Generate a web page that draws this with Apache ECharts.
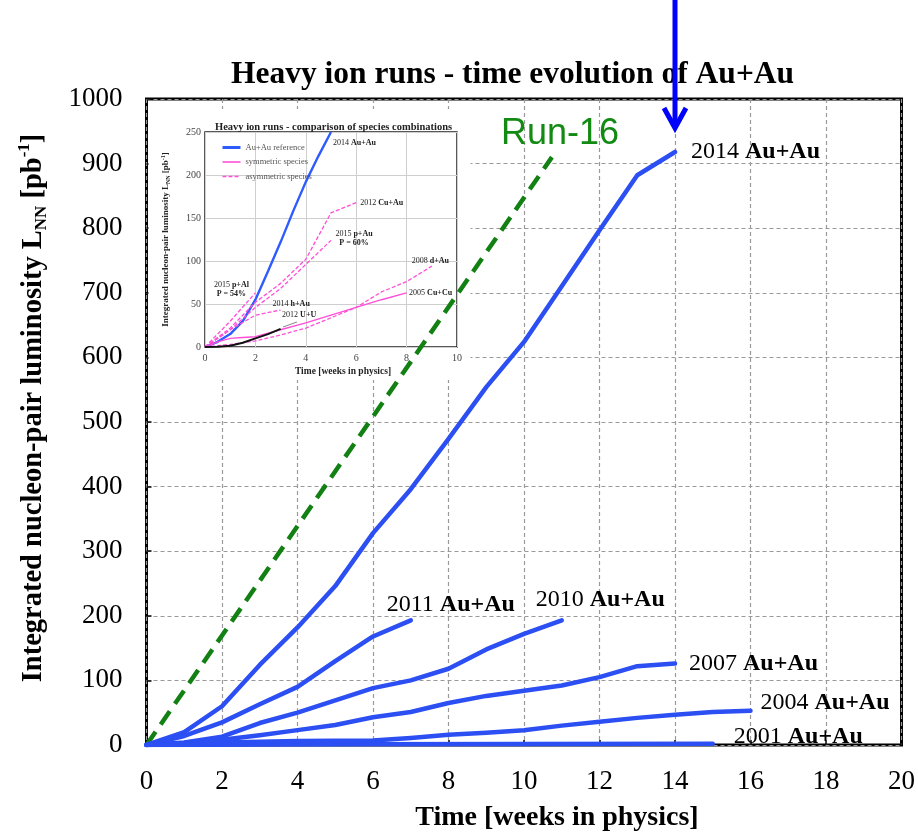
<!DOCTYPE html>
<html>
<head>
<meta charset="utf-8">
<title>Heavy ion runs - time evolution of Au+Au</title>
<style>
    html, body { margin: 0; padding: 0; background: #fff; }
    #chart { width: 918px; height: 837px; }
</style>
</head>
<body>
<div id="chart"></div>
<script src="https://cdn.jsdelivr.net/npm/echarts@6.0.0/dist/echarts.min.js"></script>
<script>
// main chart: [weeks in physics, integrated L_NN in pb^-1]
const au2014 = [[0,0],[1,20],[2,60],[3,124],[4,182],[5,246],[6,328],[7,396],[8,474],[9,554],[10,624],[11,710],[12,797],[13,882],[14,918]];
const au2011 = [[0,0],[1,14],[2,35],[3,63],[4,90],[5,130],[6,168],[7,193]];
const au2010 = [[0,0],[1,4],[2,13],[3,34],[4,50],[5,69],[6,88],[7,100],[8,118],[9,148],[10,172],[11,193]];
const au2007 = [[0,0],[1,3],[2,8],[3,15],[4,23],[5,31],[6,43],[7,51],[8,65],[9,76],[10,84],[11,92],[12,105],[13,122],[14,126]];
const au2004 = [[0,0],[2,4],[4,6],[6,7],[7,11],[8,16],[9,19],[10,23],[11,30],[12,36],[13,42],[14,47],[15,51],[16,53]];
const au2001 = [[0,0],[5,1],[10,1.5],[15,2]];
const run16 = [[0,0],[10.74,910]];
const arrowWeek = 14;

// inset: comparison of species combinations
const inAu2014 = [[0,0],[0.5,6],[1,15],[1.5,30],[2,55],[2.5,88],[3,122],[3.5,158],[4,192],[4.5,222],[5,250]];
const inCuAu2012 = [[0,0],[1,22],[2,52],[3,74],[4,102],[5,156],[6,168]];
const inPAu2015 = [[0,0],[1,20],[2,46],[3,68],[4,96],[5,124]];
const inDAu2008 = [[0,0],[1,3],[2,7],[3,14],[4,22],[5,34],[6,46],[7,64],[8,76],[9,94]];
const inCuCu2005 = [[0,0],[0.5,6],[1,10],[1.5,11],[2,12],[3,20],[4,28],[5,37],[6,46],[7,55],[8,63]];
const inPAl2015 = [[0,0],[1,30],[2,63]];
const inHAu2014 = [[0,0],[1,20],[2,37],[3,43]];
const inUU2012 = [[0,0],[0.5,0.3],[1,1.5],[1.5,5],[2,10],[2.5,15],[3,21]];
const legendNames = ['Au+Au reference', 'symmetric species', 'asymmetric species'];

const SERIF = "'Liberation Serif', 'Times New Roman', serif";
const BLUE = '#2b4ff2';
const PINK = '#ff4fd8';

function mainRich(size) {
    return {
        n: { fontFamily: SERIF, fontSize: size, color: '#000' },
        b: { fontFamily: SERIF, fontSize: size, fontWeight: 'bold', color: '#000' }
    };
}

function mainLine(data, year, offset) {
    return {
        type: 'line', xAxisIndex: 0, yAxisIndex: 0,
        data: data, symbol: 'none', z: 5,
        lineStyle: { color: BLUE, width: 4.5, cap: 'round', join: 'round' },
        endLabel: {
            show: true, distance: 0, offset: offset,
            formatter: '{n|' + year + ' }{b|Au+Au}',
            rich: mainRich(24)
        }
    };
}

function insetLine(data, name, color, width, dashed, label, offset, align) {
    return {
        type: 'line', xAxisIndex: 1, yAxisIndex: 1, name: name,
        data: data, symbol: 'none', z: 6,
        lineStyle: { color: color, width: width, type: dashed ? [4, 2] : 'solid' },
        itemStyle: { color: color },
        endLabel: {
            show: true, distance: 0, offset: offset, align: align || 'left',
            formatter: label, lineHeight: 9,
            rich: {
                n: { fontFamily: SERIF, fontSize: 8, color: '#222', lineHeight: 9 },
                b: { fontFamily: SERIF, fontSize: 8, fontWeight: 'bold', color: '#222', lineHeight: 9 }
            }
        }
    };
}

const option = {
    animation: false,
    textStyle: { fontFamily: SERIF },
    title: [
        {
            text: 'Heavy ion runs - time evolution of Au+Au',
            left: 226, top: 54,
            textStyle: { fontFamily: SERIF, fontSize: 31.5, fontWeight: 'bold', color: '#000' }
        },
        {
            text: 'Heavy ion runs - comparison of species combinations',
            left: 210, top: 117, z: 8,
            textStyle: { fontFamily: SERIF, fontSize: 10.5, fontWeight: 'bold', color: '#222' }
        }
    ],
    legend: {
        data: [
            { name: legendNames[0], lineStyle: { width: 3 } },
            { name: legendNames[1], lineStyle: { width: 1.6 } },
            { name: legendNames[2], lineStyle: { width: 1.6 } }
        ],
        orient: 'vertical', left: 216, top: 138, z: 8,
        itemWidth: 18, itemHeight: 8, itemGap: 5.5,
        selectedMode: false,
        itemStyle: { color: 'transparent', borderColor: 'transparent', borderWidth: 0, opacity: 0 },
        textStyle: { fontFamily: SERIF, fontSize: 8.5, color: '#555' }
    },
    grid: [
        { left: 146.5, right: 14.5, top: 99, bottom: 92, show: true, borderColor: '#000', borderWidth: 3, backgroundColor: 'transparent' },
        { left: 205, right: 461, top: 132, bottom: 490, show: true, borderColor: '#222', borderWidth: 1.5, backgroundColor: 'transparent', z: 3 }
    ],
    xAxis: [
        {
            type: 'value', gridIndex: 0, min: 0, max: 20, interval: 2,
            name: 'Time [weeks in physics]', nameLocation: 'middle', nameGap: 59,
            nameTextStyle: { fontFamily: SERIF, fontSize: 28, fontWeight: 'bold', color: '#000', lineHeight: 28, padding: [0, 0, 0, 66] },
            axisLine: { show: false },
            axisTick: { show: true, inside: true, length: 5, lineStyle: { color: '#000', width: 1.5 } },
            axisLabel: { fontFamily: SERIF, fontSize: 27, color: '#000', margin: 23 },
            splitLine: { show: true, lineStyle: { color: '#9a9a9a', width: 1.2, type: [4, 3] } }
        },
        {
            type: 'value', gridIndex: 1, min: 0, max: 10, interval: 2, z: 3,
            name: 'Time [weeks in physics]', nameLocation: 'middle', nameGap: 20,
            nameTextStyle: { fontFamily: SERIF, fontSize: 9.5, fontWeight: 'bold', color: '#222', padding: [0, 0, 0, 24] },
            axisLine: { show: false },
            axisTick: { show: false },
            axisLabel: { fontFamily: SERIF, fontSize: 10, color: '#444', margin: 6 },
            splitLine: { show: true, lineStyle: { color: '#cfcfcf', width: 1 } }
        }
    ],
    yAxis: [
        {
            type: 'value', gridIndex: 0, min: 0, max: 1000, interval: 100,
            name: 'Integrated nucleon-pair luminosity L{sub|NN} [pb{sup|-1}]',
            nameLocation: 'middle', nameGap: 96,
            nameTextStyle: {
                fontFamily: SERIF, fontSize: 28.5, fontWeight: 'bold', color: '#000', lineHeight: 34,
                padding: [0, 0, 0, 28],
                rich: {
                    sub: { fontFamily: SERIF, fontSize: 17, fontWeight: 'bold', color: '#000', lineHeight: 17, verticalAlign: 'bottom' },
                    sup: { fontFamily: SERIF, fontSize: 17, fontWeight: 'bold', color: '#000', lineHeight: 17, verticalAlign: 'top' }
                }
            },
            axisLine: { show: false },
            axisTick: { show: true, inside: true, length: 5, lineStyle: { color: '#000', width: 1.5 } },
            axisLabel: { fontFamily: SERIF, fontSize: 27, color: '#000', margin: 24, formatter: v => String(v) },
            splitLine: { show: true, lineStyle: { color: '#9a9a9a', width: 1.2, type: [4, 3] } }
        },
        {
            type: 'value', gridIndex: 1, min: 0, max: 250, interval: 50, z: 3,
            name: 'Integrated nucleon-pair luminosity L{sub|NN} [pb{sup|-1}]',
            nameLocation: 'middle', nameGap: 34,
            nameTextStyle: {
                fontFamily: SERIF, fontSize: 9, fontWeight: 'bold', color: '#222', lineHeight: 11,
                rich: {
                    sub: { fontFamily: SERIF, fontSize: 6, fontWeight: 'bold', color: '#222', lineHeight: 6, verticalAlign: 'bottom' },
                    sup: { fontFamily: SERIF, fontSize: 6, fontWeight: 'bold', color: '#222', lineHeight: 6, verticalAlign: 'top' }
                }
            },
            axisLine: { show: false },
            axisTick: { show: false },
            axisLabel: { fontFamily: SERIF, fontSize: 10, color: '#444', margin: 4 },
            splitLine: { show: true, lineStyle: { color: '#cfcfcf', width: 1 } }
        }
    ],
    series: [
        {
            type: 'line', xAxisIndex: 0, yAxisIndex: 0, data: run16, symbol: 'none', z: 5,
            lineStyle: { color: '#138013', width: 4.5, type: [16, 9] }
        },
        mainLine(au2014, '2014', [16, 0]),
        mainLine(au2011, '2011', [-24, -16]),
        mainLine(au2010, '2010', [-26, -21]),
        mainLine(au2007, '2007', [14, 0]),
        mainLine(au2004, '2004', [10, -8]),
        mainLine(au2001, '2001', [21, -7]),

        insetLine(inAu2014, 'Au+Au reference', '#2f5cff', 2.4, false, '{n|2014 }{b|Au+Au}', [2, 11]),
        insetLine(inCuAu2012, 'asymmetric species', PINK, 1.3, true, '{n|2012 }{b|Cu+Au}', [4, 0]),
        insetLine(inPAu2015, 'asymmetric species', PINK, 1.3, true, '{n|2015 }{b|p+Au}\n{b|P = 60%}', [23, -2], 'center'),
        insetLine(inDAu2008, 'asymmetric species', PINK, 1.3, true, '{n|2008 }{b|d+Au}', [-20, -5]),
        insetLine(inCuCu2005, 'symmetric species', PINK, 1.4, false, '{n|2005 }{b|Cu+Cu}', [2.5, 0]),
        insetLine(inPAl2015, 'asymmetric species', PINK, 1.3, true, '{n|2015 }{b|p+Al}\n{b|P = 54%}', [-24, -3], 'center'),
        insetLine(inHAu2014, 'asymmetric species', PINK, 1.3, true, '{n|2014 }{b|h+Au}', [-8, -6]),
        insetLine(inUU2012, '2012 U+U', '#111', 2, false, '{n|2012 }{b|U+U}', [1.5, -14])
    ]
};

const chart = echarts.init(document.getElementById('chart'));
chart.setOption(option);

// annotations: white inset panel, Run-16 text, arrow at end of Run-14
const ax = chart.convertToPixel({ xAxisIndex: 0 }, arrowWeek);
chart.setOption({
    graphic: [
        { type: 'rect', z: 1, silent: true, shape: { x: 148.5, y: 109, width: 322, height: 271 }, style: { fill: '#fff' } },
        { type: 'line', z: 7, silent: true, shape: { x1: 283, y1: 327, x2: 297, y2: 322 }, style: { stroke: '#666', lineWidth: 0.8 } },
        {
            type: 'text', z: 10, silent: true, x: 560, y: 134,
            style: { text: 'Run-16', fontFamily: "'Liberation Sans', Arial, sans-serif", fontSize: 36, fill: '#138a13', align: 'center', verticalAlign: 'middle' }
        },
        { type: 'line', z: 10, silent: true, shape: { x1: ax, y1: 0, x2: ax, y2: 126 }, style: { stroke: '#0000ff', lineWidth: 5 } },
        {
            type: 'polyline', z: 10, silent: true,
            shape: { points: [[ax - 11, 108], [ax, 128], [ax + 11, 108]] },
            style: { stroke: '#0000ff', lineWidth: 5, fill: null, lineJoin: 'miter' }
        }
    ]
});
</script>
</body>
</html>
